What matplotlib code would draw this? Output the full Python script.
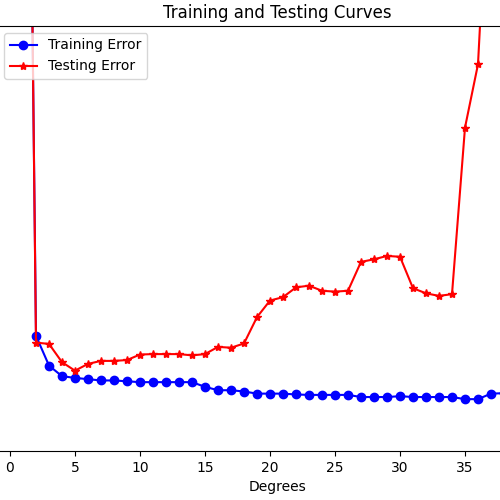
import matplotlib
matplotlib.use("Agg")
import matplotlib.pyplot as plt

degrees = list(range(1, 39))
training_error = [297, 27.1, 20.1, 17.6, 17.2, 16.9, 16.6, 16.6, 16.4, 16.2,
                  16.2, 16.2, 16.2, 16.2, 15.1, 14.3, 14.3, 14.0, 13.5, 13.5,
                  13.5, 13.3, 13.2, 13.2, 13.2, 13.2, 12.7, 12.7, 12.7, 12.9,
                  12.7, 12.7, 12.7, 12.7, 12.2, 12.2, 13.5, 13.6]
testing_error = [302, 25.5, 25.2, 20.9, 18.9, 20.5, 21.2, 21.2, 21.4, 22.7,
                 22.8, 22.8, 22.8, 22.5, 22.8, 24.5, 24.3, 25.3, 31.5, 35.4,
                 36.2, 38.5, 38.9, 37.7, 37.5, 37.7, 44.5, 45.1, 45.9, 45.7,
                 38.3, 37.1, 36.5, 36.9, 76.1, 91.0, 150.0, 300.0]
x_ticks = [0, 5, 10, 15, 20, 25, 30, 35]

fig = plt.figure(figsize=(5, 5), dpi=100)
left_px, right_px = -3, 557
ax = fig.add_axes([left_px / 500, 0.098, (right_px - left_px) / 500, 0.85])
ax.plot(degrees, training_error, 'bo-', label='Training Error')
ax.plot(degrees, testing_error, 'r*-', label='Testing Error')
ax.set_xlim((left_px - 10) / 13, (right_px - 10) / 13)
ax.set_ylim(0, 100)
ax.set_yticks([])
ax.set_xticks(x_ticks)
ax.spines['left'].set_visible(False)
ax.spines['right'].set_visible(False)
ax.set_title('Training and Testing Curves')
ax.set_xlabel('Degrees')
ax.legend(loc='upper left')
fig.savefig('out.png', dpi=100)
